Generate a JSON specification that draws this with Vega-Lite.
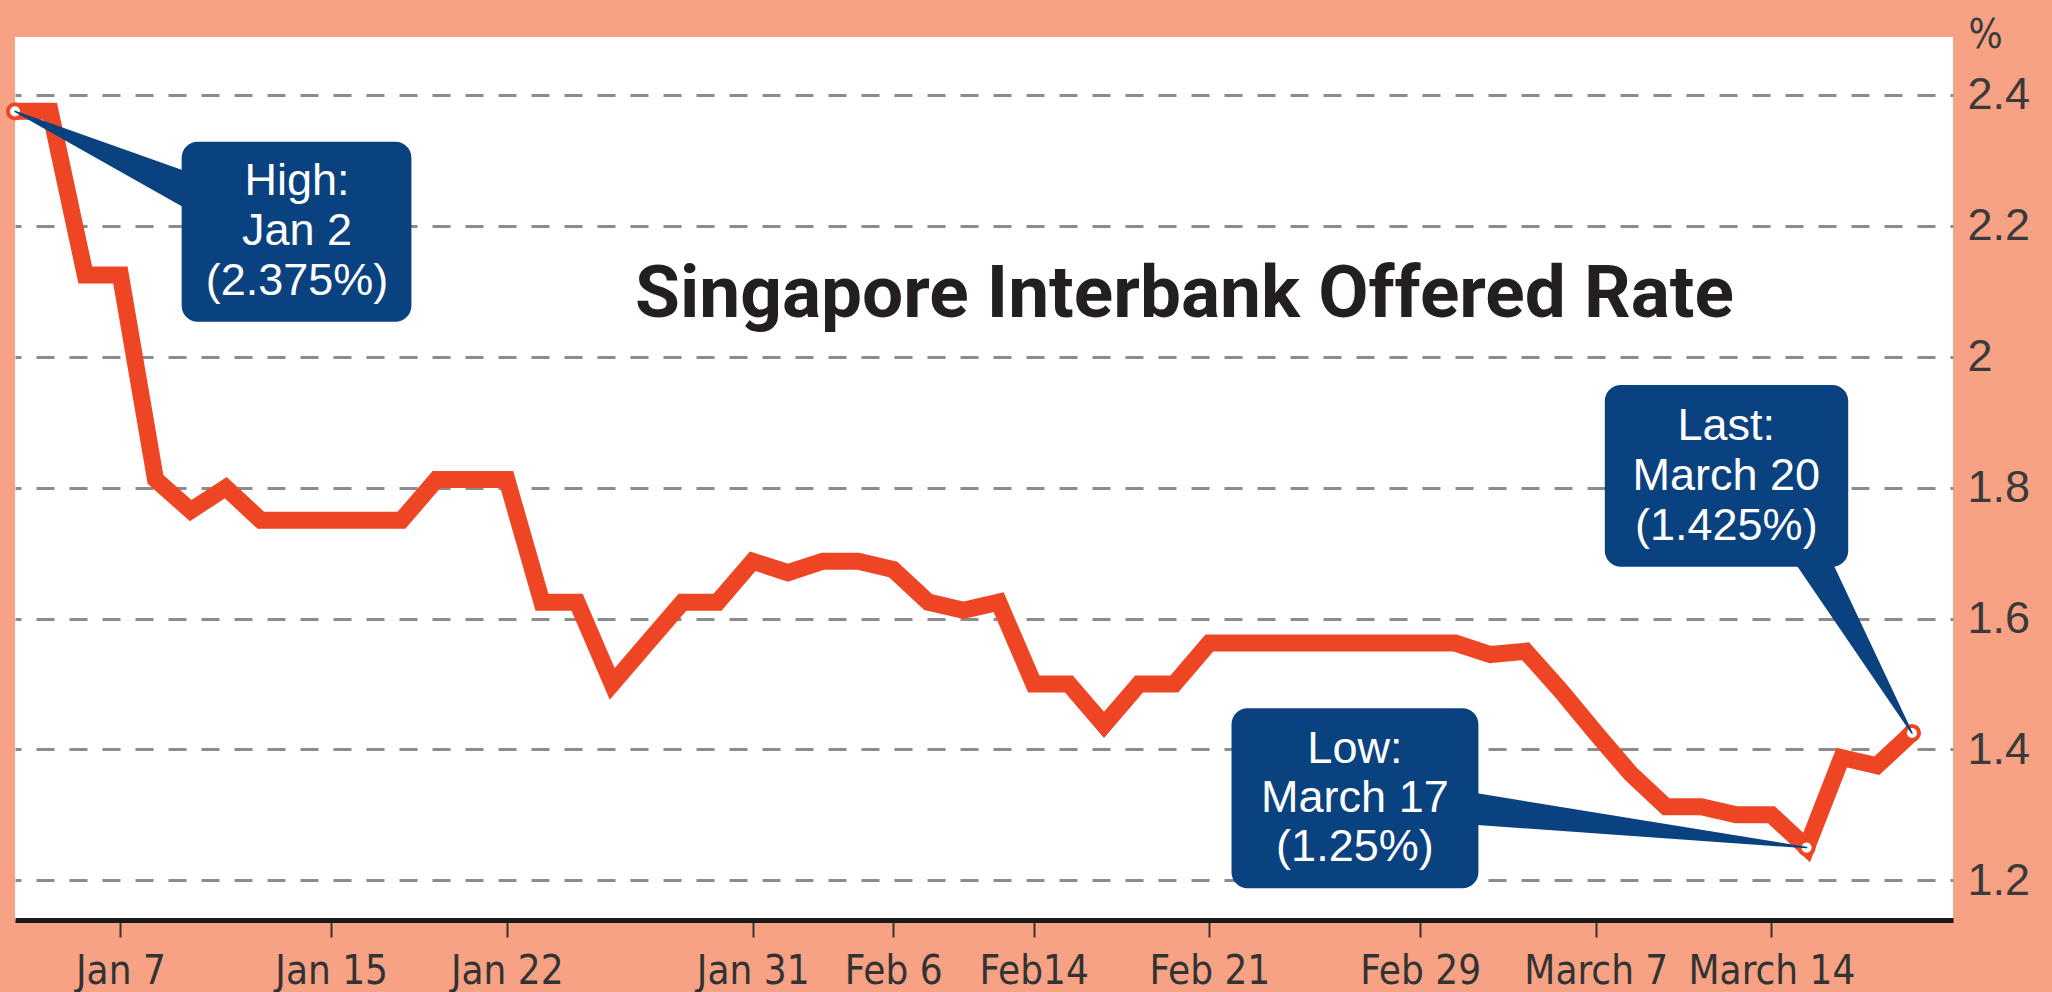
{
  "$schema": "https://vega.github.io/schema/vega-lite/v6.json",
  "width": 1938,
  "height": 883,
  "autosize": {"type": "none"},
  "padding": {"left": 15, "top": 37, "right": 99, "bottom": 72},
  "background": "#F7A284",
  "config": {"view": {"stroke": null, "fill": "white"}},
  "title": {
    "text": "Singapore Interbank Offered Rate",
    "anchor": "start",
    "frame": "group",
    "orient": "top",
    "offset": 0,
    "baseline": "alphabetic",
    "dx": 620,
    "dy": 375,
    "font": "Roboto",
    "fontSize": 73,
    "fontWeight": "bold",
    "color": "#231F20"
  },
  "datasets": {
    "sibor": [
      {"date": "2008-01-02", "rate": 2.375},
      {"date": "2008-01-03", "rate": 2.375},
      {"date": "2008-01-04", "rate": 2.125},
      {"date": "2008-01-07", "rate": 2.125},
      {"date": "2008-01-08", "rate": 1.8125},
      {"date": "2008-01-09", "rate": 1.765},
      {"date": "2008-01-10", "rate": 1.8},
      {"date": "2008-01-11", "rate": 1.75},
      {"date": "2008-01-14", "rate": 1.75},
      {"date": "2008-01-15", "rate": 1.75},
      {"date": "2008-01-16", "rate": 1.75},
      {"date": "2008-01-17", "rate": 1.75},
      {"date": "2008-01-18", "rate": 1.8125},
      {"date": "2008-01-21", "rate": 1.8125},
      {"date": "2008-01-22", "rate": 1.8125},
      {"date": "2008-01-23", "rate": 1.625},
      {"date": "2008-01-24", "rate": 1.625},
      {"date": "2008-01-25", "rate": 1.5},
      {"date": "2008-01-28", "rate": 1.5625},
      {"date": "2008-01-29", "rate": 1.625},
      {"date": "2008-01-30", "rate": 1.625},
      {"date": "2008-01-31", "rate": 1.6875},
      {"date": "2008-02-01", "rate": 1.67},
      {"date": "2008-02-04", "rate": 1.6875},
      {"date": "2008-02-05", "rate": 1.6875},
      {"date": "2008-02-06", "rate": 1.675},
      {"date": "2008-02-11", "rate": 1.625},
      {"date": "2008-02-12", "rate": 1.6125},
      {"date": "2008-02-13", "rate": 1.625},
      {"date": "2008-02-14", "rate": 1.5},
      {"date": "2008-02-15", "rate": 1.5},
      {"date": "2008-02-18", "rate": 1.4375},
      {"date": "2008-02-19", "rate": 1.5},
      {"date": "2008-02-20", "rate": 1.5},
      {"date": "2008-02-21", "rate": 1.5625},
      {"date": "2008-02-22", "rate": 1.5625},
      {"date": "2008-02-25", "rate": 1.5625},
      {"date": "2008-02-26", "rate": 1.5625},
      {"date": "2008-02-27", "rate": 1.5625},
      {"date": "2008-02-28", "rate": 1.5625},
      {"date": "2008-02-29", "rate": 1.5625},
      {"date": "2008-03-03", "rate": 1.5625},
      {"date": "2008-03-04", "rate": 1.545},
      {"date": "2008-03-05", "rate": 1.55},
      {"date": "2008-03-06", "rate": 1.49},
      {"date": "2008-03-07", "rate": 1.425},
      {"date": "2008-03-10", "rate": 1.3625},
      {"date": "2008-03-11", "rate": 1.3125},
      {"date": "2008-03-12", "rate": 1.3125},
      {"date": "2008-03-13", "rate": 1.3},
      {"date": "2008-03-14", "rate": 1.3},
      {"date": "2008-03-17", "rate": 1.25},
      {"date": "2008-03-18", "rate": 1.3875},
      {"date": "2008-03-19", "rate": 1.375},
      {"date": "2008-03-20", "rate": 1.425}
    ]
  },
  "encoding": {
    "x": {
      "field": "date",
      "type": "ordinal",
      "scale": {"type": "point", "padding": 0.584, "align": 0},
      "axis": {
        "values": ["2008-01-07", "2008-01-15", "2008-01-22", "2008-01-31", "2008-02-06", "2008-02-14", "2008-02-21", "2008-02-29", "2008-03-07", "2008-03-14"],
        "labelExpr": "replace(replace(utcFormat(toDate(datum.value), '%b %-d'), 'Mar', 'March'), 'Feb 14', 'Feb14')",
        "title": null,
        "grid": false,
        "domain": true,
        "domainColor": "#1a1a1a",
        "domainWidth": 5,
        "ticks": true,
        "tickSize": 17,
        "tickWidth": 2,
        "tickColor": "#333333",
        "labelAngle": 0,
        "labelFont": "DejaVu Sans Condensed, Roboto, sans-serif",
        "labelFontSize": 40,
        "labelColor": "#333333",
        "labelBaseline": "alphabetic",
        "labelPadding": 46,
        "labelOverlap": false,
        "labelFlush": false,
        "labelBound": false
      }
    },
    "y": {
      "field": "rate",
      "type": "quantitative",
      "scale": {"domain": [1.1393, 2.4886], "nice": false, "zero": false},
      "axis": {
        "orient": "right",
        "values": [1.2, 1.4, 1.6, 1.8, 2.0, 2.2, 2.4],
        "format": ".1~f",
        "domain": false,
        "ticks": false,
        "grid": true,
        "gridColor": "#8c8c8c",
        "gridWidth": 3,
        "gridDash": [18, 15],
        "gridDashOffset": 15,
        "labelFont": "Liberation Sans",
        "labelFontSize": 45,
        "labelColor": "#3a3a3a",
        "labelPadding": 14,
        "labelAlign": "left",
        "labelBaseline": "middle",
        "labelOverlap": false,
        "labelFlush": false,
        "labelBound": false,
        "title": "%",
        "titleAngle": 0,
        "titleX": 15,
        "titleY": 10,
        "titleAlign": "left",
        "titleBaseline": "alphabetic",
        "titleFont": "DejaVu Sans Condensed, Roboto, sans-serif",
        "titleFontSize": 40,
        "titleFontWeight": "normal",
        "titleColor": "#3a3a3a"
      }
    }
  },
  "resolve": {"scale": {"size": "independent"}},
  "layer": [
    {
      "data": {"name": "sibor"},
      "mark": {"type": "line", "color": "#EE4624", "strokeWidth": 17, "strokeJoin": "miter", "strokeCap": "butt"}
    },
    {
      "data": {"name": "sibor"},
      "transform": [{"filter": {"field": "date", "oneOf": ["2008-01-02", "2008-03-17", "2008-03-20"]}}],
      "mark": {"type": "point", "shape": "circle", "filled": true, "fill": "white", "stroke": "#EE4624", "strokeWidth": 4, "size": 200, "opacity": 1}
    },
    {
      "data": {"values": [
        {"date": "2008-01-02", "rate": 2.375, "part": "tip"},
        {"date": "2008-01-10", "rate": 2.2282, "part": "base"}
      ]},
      "mark": {"type": "trail", "color": "#0A427F"},
      "encoding": {"size": {"field": "part", "type": "ordinal", "scale": {"domain": ["tip", "base"], "range": [1.5, 41.5]}, "legend": null}}
    },
    {
      "data": {"values": [
        {"date": "2008-03-17", "rate": 1.25, "part": "tip"},
        {"date": "2008-02-29", "rate": 1.3187, "part": "base"}
      ]},
      "mark": {"type": "trail", "color": "#0A427F"},
      "encoding": {"size": {"field": "part", "type": "ordinal", "scale": {"domain": ["tip", "base"], "range": [1.5, 36.7]}, "legend": null}}
    },
    {
      "data": {"values": [
        {"date": "2008-03-20", "rate": 1.425, "part": "tip"},
        {"date": "2008-03-14", "rate": 1.8005, "part": "base"}
      ]},
      "mark": {"type": "trail", "color": "#0A427F"},
      "encoding": {"size": {"field": "part", "type": "ordinal", "scale": {"domain": ["tip", "base"], "range": [1.5, 46.4]}, "legend": null}}
    },
    {
      "data": {"values": [{"date": "2008-01-09", "date2": "2008-01-17", "rate": 2.3286, "rate2": 2.0536}]},
      "mark": {"type": "rect", "color": "#0A427F", "cornerRadius": 16, "xOffset": -9, "x2Offset": 10},
      "encoding": {"x2": {"field": "date2"}, "y2": {"field": "rate2"}}
    },
    {
      "data": {"values": [{"date": "2008-02-22", "date2": "2008-03-04", "rate": 1.4628, "rate2": 1.1877}]},
      "mark": {"type": "rect", "color": "#0A427F", "cornerRadius": 16, "xOffset": -13, "x2Offset": -12},
      "encoding": {"x2": {"field": "date2"}, "y2": {"field": "rate2"}}
    },
    {
      "data": {"values": [{"date": "2008-03-07", "date2": "2008-03-18", "rate": 1.9568, "rate2": 1.6792}]},
      "mark": {"type": "rect", "color": "#0A427F", "cornerRadius": 16, "xOffset": 9, "x2Offset": 6.5},
      "encoding": {"x2": {"field": "date2"}, "y2": {"field": "rate2"}}
    },
    {
      "data": {"values": [{"date": "2008-01-14", "rate": 2.2472, "label": "High:\nJan 2\n(2.375%)"}]},
      "mark": {"type": "text", "font": "Liberation Sans", "fontSize": 45, "color": "white", "align": "center", "baseline": "alphabetic", "lineBreak": "\n", "lineHeight": 50, "dx": 1},
      "encoding": {"text": {"field": "label"}}
    },
    {
      "data": {"values": [{"date": "2008-02-27", "rate": 1.3788, "label": "Low:\nMarch 17\n(1.25%)"}]},
      "mark": {"type": "text", "font": "Liberation Sans", "fontSize": 45, "color": "white", "align": "center", "baseline": "alphabetic", "lineBreak": "\n", "lineHeight": 49, "dx": 5},
      "encoding": {"text": {"field": "label"}}
    },
    {
      "data": {"values": [{"date": "2008-03-13", "rate": 1.8728, "label": "Last:\nMarch 20\n(1.425%)"}]},
      "mark": {"type": "text", "font": "Liberation Sans", "fontSize": 45, "color": "white", "align": "center", "baseline": "alphabetic", "lineBreak": "\n", "lineHeight": 50, "dx": -10},
      "encoding": {"text": {"field": "label"}}
    }
  ]
}
